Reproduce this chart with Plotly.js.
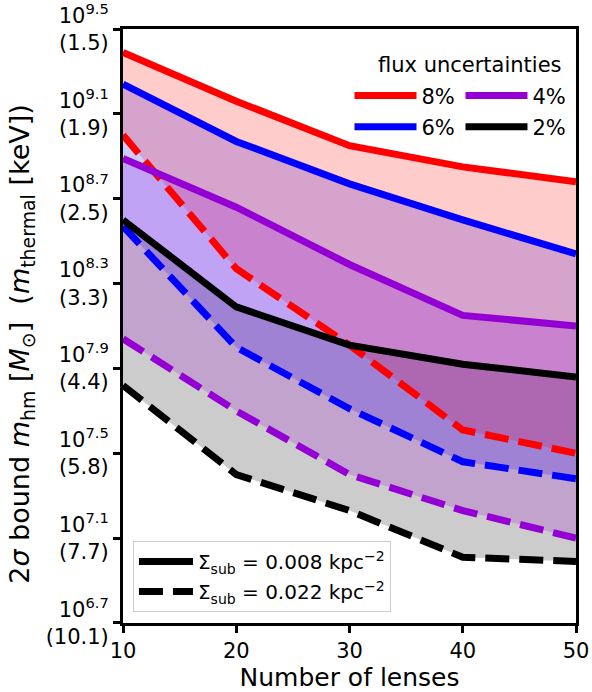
<!DOCTYPE html>
<html>
<head>
<meta charset="utf-8">
<script src="https://cdn.plot.ly/plotly-3.0.1.min.js"></script>
<style>html,body{margin:0;padding:0;background:#fff;}</style>
</head>
<body>
<div id="chart" style="width:592px;height:692px;"></div>
<script>
// Number of lenses
const lenses = [10, 20, 30, 40, 50];
// log10 of 2-sigma bound on m_hm [M_sun]; solid: Sigma_sub = 0.008, dashed: Sigma_sub = 0.022
const red8_solid    = [9.39, 9.16, 8.95, 8.85, 8.78];
const red8_dashed   = [9.00, 8.37, 8.01, 7.61, 7.50];
const blue6_solid   = [9.24, 8.97, 8.77, 8.60, 8.44];
const blue6_dashed  = [8.57, 8.00, 7.71, 7.46, 7.38];
const purp4_solid   = [8.89, 8.66, 8.39, 8.15, 8.10];
const purp4_dashed  = [8.04, 7.70, 7.40, 7.23, 7.10];
const black2_solid  = [8.60, 8.19, 8.01, 7.92, 7.86];
const black2_dashed = [7.82, 7.40, 7.23, 7.01, 6.99];

const seriesNames = ['8%', '6%', '4%', '2%'];
const yTickExp = [6.7, 7.1, 7.5, 7.9, 8.3, 8.7, 9.1, 9.5];
const yTickKeV = ['10.1', '7.7', '5.8', '4.4', '3.3', '2.5', '1.9', '1.5'];
const xTicks = [10, 20, 30, 40, 50];

const toMass = arr => arr.map(v => Math.pow(10, v));

const S = {
  red:    {name: seriesNames[0], solid: red8_solid,   dashed: red8_dashed,   color: '#ff0000', fill: 'rgba(255,0,0,0.2)',   legend: 'legend',  grp: 'g0'},
  blue:   {name: seriesNames[1], solid: blue6_solid,  dashed: blue6_dashed,  color: '#0000ff', fill: 'rgba(0,0,255,0.2)',   legend: 'legend',  grp: 'g1'},
  purple: {name: seriesNames[2], solid: purp4_solid,  dashed: purp4_dashed,  color: '#9400d3', fill: 'rgba(148,0,211,0.2)', legend: 'legend2', grp: 'g2'},
  black:  {name: seriesNames[3], solid: black2_solid, dashed: black2_dashed, color: '#000000', fill: 'rgba(0,0,0,0.2)',     legend: 'legend2', grp: 'g3'}
};

const LW = 7;
const DASH = '24px,10px';
const traces = [];

// fills first (stacking order as in the reference)
[S.black, S.blue, S.red, S.purple].forEach(s => {
  traces.push({x: lenses, y: toMass(s.dashed), mode: 'lines', line: {width: 0, color: s.color},
               showlegend: false, hoverinfo: 'skip'});
  traces.push({x: lenses, y: toMass(s.solid), mode: 'lines', line: {width: 0, color: s.color},
               fill: 'tonexty', fillcolor: s.fill, showlegend: false, hoverinfo: 'skip'});
});
// lines
[S.purple, S.blue, S.red, S.black].forEach(s => {
  traces.push({x: lenses, y: toMass(s.dashed), mode: 'lines',
               line: {width: LW, color: s.color, dash: DASH}, showlegend: false});
});
[S.purple, S.blue, S.red, S.black].forEach(s => {
  traces.push({x: lenses, y: toMass(s.solid), mode: 'lines',
               line: {width: LW, color: s.color}, name: s.name, legend: s.legend,
               legendgroup: s.grp, legendrank: seriesNames.indexOf(s.name) + 1, showlegend: true});
});
// style legend entries
traces.push({x: [null], y: [null], mode: 'lines', line: {width: LW, color: '#000'},
             name: 'Σ<sub>sub</sub> = 0.008 kpc<sup>−2</sup>', legend: 'legend3', legendgroup: 's1'});
traces.push({x: [null], y: [null], mode: 'lines', line: {width: LW, color: '#000', dash: DASH},
             name: 'Σ<sub>sub</sub> = 0.022 kpc<sup>−2</sup>', legend: 'legend3', legendgroup: 's2'});

const FONT = 'DejaVu Sans, Liberation Sans, sans-serif';

const layout = {
  width: 592, height: 692,
  margin: {l: 123, r: 16, t: 29, b: 69},
  paper_bgcolor: '#fff', plot_bgcolor: '#fff',
  font: {family: FONT, color: '#000', size: 21},
  showlegend: true,
  xaxis: {
    range: [10, 50], tickvals: xTicks, ticktext: xTicks.map(String),
    showgrid: false, zeroline: false,
    showline: true, linewidth: 3, linecolor: '#000', mirror: true,
    ticks: 'outside', ticklen: 7, tickwidth: 3, tickcolor: '#000',
    tickfont: {size: 21},
    title: {text: 'Number of lenses', font: {size: 25}, standoff: 2}
  },
  yaxis: {
    type: 'log', range: [6.6999, 9.5001],
    tickvals: yTickExp.map(e => Math.pow(10, e)),
    ticktext: yTickExp.map((e, i) => '10<sup>' + e.toFixed(1) + '</sup><br>(' + yTickKeV[i] + ')'),
    ticklabeloverflow: 'allow',
    showgrid: false, zeroline: false,
    showline: true, linewidth: 3, linecolor: '#000', mirror: true,
    ticks: 'outside', ticklen: 7, tickwidth: 3, tickcolor: '#000',
    tickfont: {size: 21}
  },
  legend: {x: 0.5, y: 0.922, xanchor: 'left', yanchor: 'top', bgcolor: 'rgba(0,0,0,0)',
           itemwidth: 62, tracegroupgap: 1, font: {size: 21}, traceorder: 'grouped'},
  legend2: {x: 0.745, y: 0.922, xanchor: 'left', yanchor: 'top', bgcolor: 'rgba(0,0,0,0)',
            itemwidth: 62, tracegroupgap: 1, font: {size: 21}, traceorder: 'grouped'},
  legend3: {x: 0.022, y: 0.138, xanchor: 'left', yanchor: 'top', bgcolor: '#fff',
            bordercolor: '#cccccc', borderwidth: 1,
            itemwidth: 54, tracegroupgap: 1, font: {size: 20}, traceorder: 'grouped'},
  annotations: [{
    text: 'flux uncertainties', xref: 'paper', yref: 'paper', x: 0.765, y: 0.94,
    xanchor: 'center', yanchor: 'middle', showarrow: false, font: {size: 21}
  }, {
    text: '2<i>σ</i> bound <i>m</i><sub>hm</sub> [<i>M</i><sub>⊙</sub>] &nbsp;(<i>m</i><sub>thermal</sub> [keV])',
    xref: 'paper', yref: 'paper', x: -0.223, y: 0.47, textangle: -90,
    xanchor: 'center', yanchor: 'middle', showarrow: false, font: {size: 27}
  }]
};

Plotly.newPlot('chart', traces, layout, {displayModeBar: false, staticPlot: true});
</script>
</body>
</html>
